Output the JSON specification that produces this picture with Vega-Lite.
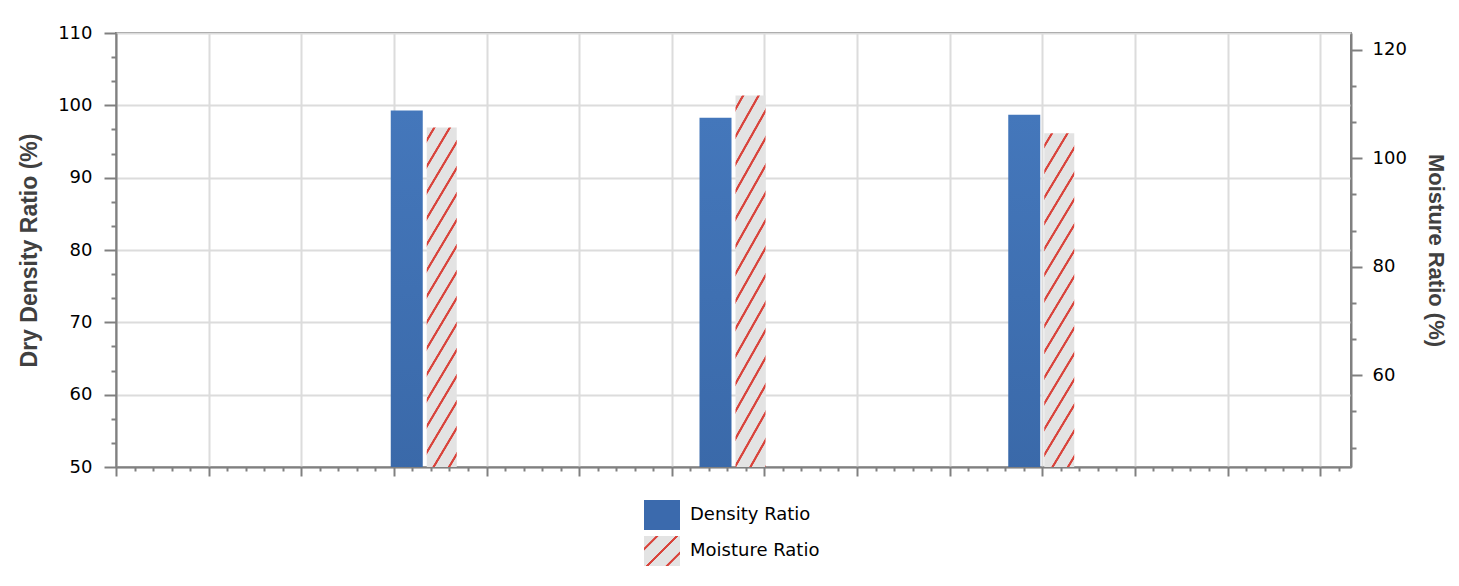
{
  "$schema": "https://vega.github.io/schema/vega-lite/v6.json",
  "width": 1235,
  "height": 434,
  "autosize": "none",
  "padding": {"left": 116, "top": 33, "right": 108, "bottom": 119},
  "background": "white",
  "data": {
    "values": [
      {"sample": 1, "series": "Density Ratio", "value": 99.3},
      {"sample": 2, "series": "Density Ratio", "value": 98.3},
      {"sample": 3, "series": "Density Ratio", "value": 98.7},
      {"sample": 1, "series": "Moisture Ratio", "value": 105.7},
      {"sample": 2, "series": "Moisture Ratio", "value": 111.6},
      {"sample": 3, "series": "Moisture Ratio", "value": 104.6}
    ]
  },
  "layer": [
    {
      "transform": [{"filter": "datum.series === 'Density Ratio'"}],
      "mark": {
        "type": "bar",
        "clip": true,
        "width": 32,
        "xOffset": -18,
        "fill": {
          "gradient": "linear", "x1": 0, "y1": 0, "x2": 0, "y2": 1,
          "stops": [
            {"offset": 0, "color": "#4477bb"},
            {"offset": 0.5, "color": "#3a69a9"},
            {"offset": 1, "color": "#2c5690"}
          ]
        }
      },
      "encoding": {
        "x": {
          "field": "sample", "type": "quantitative",
          "scale": {"domain": [0, 4], "nice": false, "zero": false, "padding": 0},
          "axis": {
            "title": null,
            "labels": false,
            "values": [0, 0.06, 0.12, 0.18, 0.24, 0.3, 0.36, 0.42, 0.48, 0.54, 0.6, 0.66, 0.72, 0.78, 0.84, 0.9, 0.96, 1.02, 1.08, 1.14, 1.2, 1.26, 1.32, 1.38, 1.44, 1.5, 1.56, 1.62, 1.68, 1.74, 1.8, 1.86, 1.92, 1.98, 2.04, 2.1, 2.16, 2.22, 2.28, 2.34, 2.4, 2.46, 2.52, 2.58, 2.64, 2.7, 2.76, 2.82, 2.88, 2.94, 3.0, 3.06, 3.12, 3.18, 3.24, 3.3, 3.36, 3.42, 3.48, 3.54, 3.6, 3.66, 3.72, 3.78, 3.84, 3.9, 3.96],
            "grid": true,
            "gridOpacity": {"condition": {"test": "abs(datum.value*10/3 - round(datum.value*10/3)) < 0.01", "value": 1}, "value": 0},
            "tickSize": {"condition": {"test": "abs(datum.value*10/3 - round(datum.value*10/3)) < 0.01", "value": 9}, "value": 4}
          }
        },
        "y": {
          "field": "value", "type": "quantitative",
          "scale": {"domain": [50, 110], "nice": false, "zero": false},
          "axis": {
            "title": "Dry Density Ratio (%)",
            "titleFontSize": 23,
            "titlePadding": 16,
            "labelPadding": 12,
            "values": [50, 53.3333, 56.6667, 60, 63.3333, 66.6667, 70, 73.3333, 76.6667, 80, 83.3333, 86.6667, 90, 93.3333, 96.6667, 100, 103.3333, 106.6667, 110],
            "labelExpr": "abs(datum.value/10 - round(datum.value/10)) < 0.001 ? datum.label : ''",
            "grid": true,
            "gridOpacity": {"condition": {"test": "abs(datum.value/10 - round(datum.value/10)) < 0.001", "value": 1}, "value": 0},
            "tickSize": {"condition": {"test": "abs(datum.value/10 - round(datum.value/10)) < 0.001", "value": 12}, "value": 5}
          }
        }
      }
    },
    {
      "transform": [{"filter": "datum.series === 'Moisture Ratio'"}],
      "mark": {
        "type": "bar",
        "clip": true,
        "width": 30,
        "xOffset": 17,
        "fill": {
          "gradient": "linear", "x1": 0, "y1": 0, "x2": 0.095, "y2": 1.08,
          "stops": [
            {"offset": 0, "color": "#e3e3e3"},
            {"offset": 0.0163, "color": "#e3e3e3"}, {"offset": 0.0183, "color": "#d9443c"}, {"offset": 0.0233, "color": "#d9443c"}, {"offset": 0.0253, "color": "#e3e3e3"},
            {"offset": 0.0580, "color": "#e3e3e3"}, {"offset": 0.0600, "color": "#d9443c"}, {"offset": 0.0650, "color": "#d9443c"}, {"offset": 0.0670, "color": "#e3e3e3"},
            {"offset": 0.0997, "color": "#e3e3e3"}, {"offset": 0.1017, "color": "#d9443c"}, {"offset": 0.1067, "color": "#d9443c"}, {"offset": 0.1087, "color": "#e3e3e3"},
            {"offset": 0.1413, "color": "#e3e3e3"}, {"offset": 0.1433, "color": "#d9443c"}, {"offset": 0.1483, "color": "#d9443c"}, {"offset": 0.1503, "color": "#e3e3e3"},
            {"offset": 0.1830, "color": "#e3e3e3"}, {"offset": 0.1850, "color": "#d9443c"}, {"offset": 0.1900, "color": "#d9443c"}, {"offset": 0.1920, "color": "#e3e3e3"},
            {"offset": 0.2247, "color": "#e3e3e3"}, {"offset": 0.2267, "color": "#d9443c"}, {"offset": 0.2317, "color": "#d9443c"}, {"offset": 0.2337, "color": "#e3e3e3"},
            {"offset": 0.2663, "color": "#e3e3e3"}, {"offset": 0.2683, "color": "#d9443c"}, {"offset": 0.2733, "color": "#d9443c"}, {"offset": 0.2753, "color": "#e3e3e3"},
            {"offset": 0.3080, "color": "#e3e3e3"}, {"offset": 0.3100, "color": "#d9443c"}, {"offset": 0.3150, "color": "#d9443c"}, {"offset": 0.3170, "color": "#e3e3e3"},
            {"offset": 0.3497, "color": "#e3e3e3"}, {"offset": 0.3517, "color": "#d9443c"}, {"offset": 0.3567, "color": "#d9443c"}, {"offset": 0.3587, "color": "#e3e3e3"},
            {"offset": 0.3913, "color": "#e3e3e3"}, {"offset": 0.3933, "color": "#d9443c"}, {"offset": 0.3983, "color": "#d9443c"}, {"offset": 0.4003, "color": "#e3e3e3"},
            {"offset": 0.4330, "color": "#e3e3e3"}, {"offset": 0.4350, "color": "#d9443c"}, {"offset": 0.4400, "color": "#d9443c"}, {"offset": 0.4420, "color": "#e3e3e3"},
            {"offset": 0.4747, "color": "#e3e3e3"}, {"offset": 0.4767, "color": "#d9443c"}, {"offset": 0.4817, "color": "#d9443c"}, {"offset": 0.4837, "color": "#e3e3e3"},
            {"offset": 0.5163, "color": "#e3e3e3"}, {"offset": 0.5183, "color": "#d9443c"}, {"offset": 0.5233, "color": "#d9443c"}, {"offset": 0.5253, "color": "#e3e3e3"},
            {"offset": 0.5580, "color": "#e3e3e3"}, {"offset": 0.5600, "color": "#d9443c"}, {"offset": 0.5650, "color": "#d9443c"}, {"offset": 0.5670, "color": "#e3e3e3"},
            {"offset": 0.5997, "color": "#e3e3e3"}, {"offset": 0.6017, "color": "#d9443c"}, {"offset": 0.6067, "color": "#d9443c"}, {"offset": 0.6087, "color": "#e3e3e3"},
            {"offset": 0.6413, "color": "#e3e3e3"}, {"offset": 0.6433, "color": "#d9443c"}, {"offset": 0.6483, "color": "#d9443c"}, {"offset": 0.6503, "color": "#e3e3e3"},
            {"offset": 0.6830, "color": "#e3e3e3"}, {"offset": 0.6850, "color": "#d9443c"}, {"offset": 0.6900, "color": "#d9443c"}, {"offset": 0.6920, "color": "#e3e3e3"},
            {"offset": 0.7247, "color": "#e3e3e3"}, {"offset": 0.7267, "color": "#d9443c"}, {"offset": 0.7317, "color": "#d9443c"}, {"offset": 0.7337, "color": "#e3e3e3"},
            {"offset": 0.7663, "color": "#e3e3e3"}, {"offset": 0.7683, "color": "#d9443c"}, {"offset": 0.7733, "color": "#d9443c"}, {"offset": 0.7753, "color": "#e3e3e3"},
            {"offset": 0.8080, "color": "#e3e3e3"}, {"offset": 0.8100, "color": "#d9443c"}, {"offset": 0.8150, "color": "#d9443c"}, {"offset": 0.8170, "color": "#e3e3e3"},
            {"offset": 0.8497, "color": "#e3e3e3"}, {"offset": 0.8517, "color": "#d9443c"}, {"offset": 0.8567, "color": "#d9443c"}, {"offset": 0.8587, "color": "#e3e3e3"},
            {"offset": 0.8913, "color": "#e3e3e3"}, {"offset": 0.8933, "color": "#d9443c"}, {"offset": 0.8983, "color": "#d9443c"}, {"offset": 0.9003, "color": "#e3e3e3"},
            {"offset": 0.9330, "color": "#e3e3e3"}, {"offset": 0.9350, "color": "#d9443c"}, {"offset": 0.9400, "color": "#d9443c"}, {"offset": 0.9420, "color": "#e3e3e3"},
            {"offset": 0.9747, "color": "#e3e3e3"}, {"offset": 0.9767, "color": "#d9443c"}, {"offset": 0.9817, "color": "#d9443c"}, {"offset": 0.9837, "color": "#e3e3e3"},
            {"offset": 1, "color": "#e3e3e3"}
          ]
        }
      },
      "encoding": {
        "x": {
          "field": "sample", "type": "quantitative",
          "scale": {"domain": [0, 4], "nice": false, "zero": false, "padding": 0},
          "axis": {
            "title": null,
            "labels": false,
            "values": [0, 0.06, 0.12, 0.18, 0.24, 0.3, 0.36, 0.42, 0.48, 0.54, 0.6, 0.66, 0.72, 0.78, 0.84, 0.9, 0.96, 1.02, 1.08, 1.14, 1.2, 1.26, 1.32, 1.38, 1.44, 1.5, 1.56, 1.62, 1.68, 1.74, 1.8, 1.86, 1.92, 1.98, 2.04, 2.1, 2.16, 2.22, 2.28, 2.34, 2.4, 2.46, 2.52, 2.58, 2.64, 2.7, 2.76, 2.82, 2.88, 2.94, 3.0, 3.06, 3.12, 3.18, 3.24, 3.3, 3.36, 3.42, 3.48, 3.54, 3.6, 3.66, 3.72, 3.78, 3.84, 3.9, 3.96],
            "grid": true,
            "gridOpacity": {"condition": {"test": "abs(datum.value*10/3 - round(datum.value*10/3)) < 0.01", "value": 1}, "value": 0},
            "tickSize": {"condition": {"test": "abs(datum.value*10/3 - round(datum.value*10/3)) < 0.01", "value": 9}, "value": 4}
          }
        },
        "y": {
          "field": "value", "type": "quantitative",
          "scale": {"domain": [43.1, 123.1], "nice": false, "zero": false},
          "axis": {
            "orient": "right",
            "title": "Moisture Ratio (%)",
            "titleFontSize": 22,
            "titlePadding": 17,
            "labelPadding": 10,
            "values": [46.6667, 53.3333, 60, 66.6667, 73.3333, 80, 86.6667, 93.3333, 100, 106.6667, 113.3333, 120],
            "labelExpr": "abs(datum.value/20 - round(datum.value/20)) < 0.001 ? datum.label : ''",
            "grid": false,
            "tickSize": {"condition": {"test": "abs(datum.value/20 - round(datum.value/20)) < 0.001", "value": 11}, "value": 5}
          }
        }
      }
    },
    {
      "mark": {"type": "point", "filled": true, "size": 0},
      "encoding": {
        "fill": {
          "datum": "Density Ratio", "type": "nominal",
          "scale": {"range": ["#3b6aad"]},
          "legend": {
            "title": null, "orient": "bottom", "symbolType": "M-1.2,-1H1.2V1H-1.2Z",
            "symbolSize": 900, "symbolStrokeWidth": 0, "symbolOpacity": 1,
            "labelOffset": 13, "labelFont": "DejaVu Sans", "labelFontSize": 18, "labelColor": "#000000",
            "offset": 23, "padding": 0
          }
        }
      }
    },
    {
      "mark": {
        "type": "point", "filled": true, "size": 0,
        "fill": {
          "gradient": "linear", "x1": 0, "y1": 0, "x2": 1.082, "y2": 0.902,
          "stops": [
            {"offset": 0, "color": "#e3e3e3"},
            {"offset": 0.17, "color": "#e3e3e3"}, {"offset": 0.185, "color": "#d9443c"}, {"offset": 0.215, "color": "#d9443c"}, {"offset": 0.23, "color": "#e3e3e3"},
            {"offset": 0.47, "color": "#e3e3e3"}, {"offset": 0.485, "color": "#d9443c"}, {"offset": 0.515, "color": "#d9443c"}, {"offset": 0.53, "color": "#e3e3e3"},
            {"offset": 0.77, "color": "#e3e3e3"}, {"offset": 0.785, "color": "#d9443c"}, {"offset": 0.815, "color": "#d9443c"}, {"offset": 0.83, "color": "#e3e3e3"},
            {"offset": 1, "color": "#e3e3e3"}
          ]
        }
      },
      "encoding": {
        "shape": {
          "datum": "Moisture Ratio", "type": "nominal",
          "scale": {"range": ["M-1.2,-1H1.2V1H-1.2Z"]},
          "legend": {
            "title": null, "orient": "bottom", "symbolType": "M-1.2,-1H1.2V1H-1.2Z",
            "symbolSize": 900, "symbolStrokeWidth": 0, "symbolStrokeColor": "transparent", "symbolOpacity": 1,
            "labelOffset": 13, "labelFont": "DejaVu Sans", "labelFontSize": 18, "labelColor": "#000000",
            "offset": 23, "padding": 0
          }
        }
      }
    }
  ],
  "resolve": {"scale": {"y": "independent"}},
  "config": {
    "view": {"stroke": "#808080", "strokeWidth": 2},
    "axis": {
      "domainColor": "#808080", "domainWidth": 2,
      "tickColor": "#808080", "tickWidth": 2,
      "labelFont": "DejaVu Sans", "labelFontSize": 18, "labelColor": "#000000",
      "titleFont": "Liberation Sans", "titleFontWeight": "bold", "titleColor": "#404040",
      "gridColor": "#dcdcdc", "gridWidth": 2
    },
    "legend": {
      "layout": {"bottom": {"anchor": "middle", "direction": "vertical", "center": false, "margin": 6}}
    }
  }
}
